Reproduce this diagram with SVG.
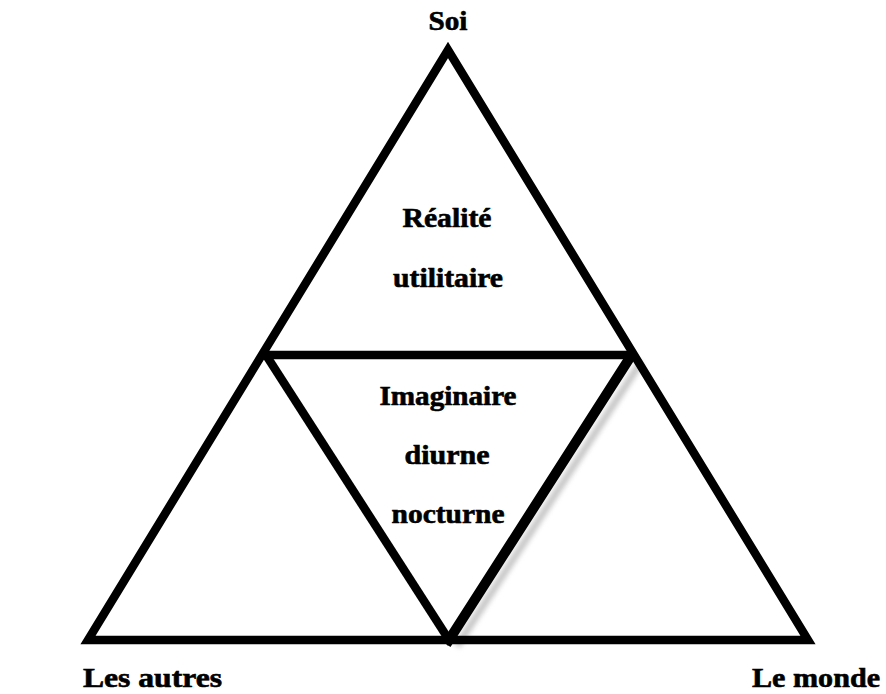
<svg xmlns="http://www.w3.org/2000/svg" width="886" height="694" viewBox="0 0 886 694">
<defs>
<style>
.ln{fill:none;stroke:#000;stroke-width:8.5;stroke-linejoin:miter;stroke-linecap:square}
.t{font-family:"Liberation Serif","Times New Roman",serif;font-weight:bold;font-size:27px;fill:#000;text-anchor:middle;stroke:#000;stroke-width:0.6}
.tl{font-family:"Liberation Serif","Times New Roman",serif;font-weight:bold;font-size:27px;fill:#000;stroke:#000;stroke-width:0.6}
</style>
<filter id="blur" x="-20%" y="-20%" width="140%" height="140%"><feGaussianBlur stdDeviation="2.5"/></filter>
</defs>
<rect width="886" height="694" fill="#fff"/>
<g id="connectors">
<line x1="641" y1="362" x2="457" y2="646" stroke="#999" stroke-width="7" opacity="0.55" filter="url(#blur)"/>
<polygon class="ln" points="448,50 88,640 808,640"/>
<line class="ln" x1="266" y1="355" x2="630" y2="355"/>
<polyline class="ln" points="266,355 449,640"/>
<line x1="449" y1="640" x2="631" y2="356" stroke="#000" stroke-width="10" stroke-linecap="square"/>
</g>
<g id="soi"><text class="t" x="448" y="30" textLength="39" lengthAdjust="spacingAndGlyphs">Soi</text></g>
<g id="realite">
<text class="t" x="447" y="227" textLength="89" lengthAdjust="spacingAndGlyphs">Réalité</text>
<text class="t" x="448" y="287" textLength="110" lengthAdjust="spacingAndGlyphs">utilitaire</text>
</g>
<g id="imaginaire">
<text class="t" x="448" y="405" textLength="137" lengthAdjust="spacingAndGlyphs">Imaginaire</text>
<text class="t" x="447" y="464" textLength="85" lengthAdjust="spacingAndGlyphs">diurne</text>
<text class="t" x="448" y="523" textLength="113" lengthAdjust="spacingAndGlyphs">nocturne</text>
</g>
<g id="les-autres"><text class="tl" x="83" y="687" textLength="139" lengthAdjust="spacingAndGlyphs">Les autres</text></g>
<g id="le-monde"><text class="tl" x="752" y="687" textLength="128" lengthAdjust="spacingAndGlyphs">Le monde</text></g>
</svg>
